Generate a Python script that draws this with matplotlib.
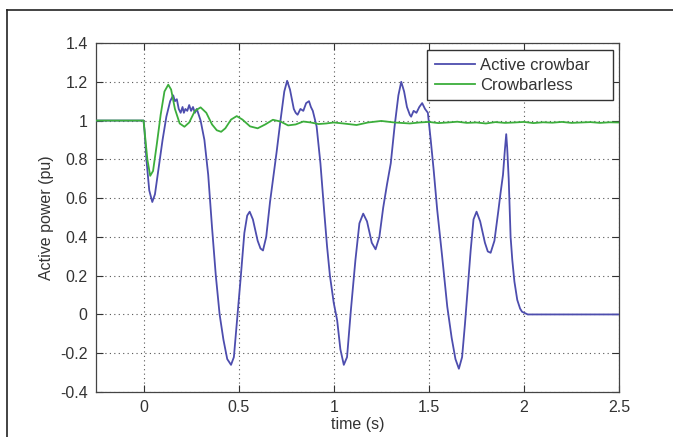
import matplotlib
matplotlib.use("Agg")
import matplotlib.pyplot as plt
from matplotlib.lines import Line2D

# ---- data ----
t_active = [-0.25, 0.0, 0.005, 0.015, 0.03, 0.046, 0.06, 0.08, 0.10, 0.12, 0.14, 0.156, 0.165, 0.175,
            0.185, 0.195, 0.205, 0.212, 0.22, 0.23, 0.24, 0.25, 0.26, 0.27, 0.28, 0.29, 0.30, 0.32,
            0.34, 0.36, 0.38, 0.40, 0.42, 0.44, 0.46, 0.475, 0.49, 0.51, 0.53, 0.545, 0.558, 0.575,
            0.60, 0.615, 0.628, 0.645, 0.665, 0.684, 0.70, 0.72, 0.74, 0.755, 0.77, 0.79, 0.80, 0.81,
            0.825, 0.84, 0.855, 0.87, 0.88, 0.89, 0.91, 0.93, 0.95, 0.965, 0.98, 1.00, 1.018, 1.035,
            1.053, 1.07, 1.09, 1.114, 1.135, 1.155, 1.175, 1.20, 1.22, 1.24, 1.26, 1.28, 1.30, 1.32,
            1.34, 1.355, 1.37, 1.385, 1.40, 1.407, 1.42, 1.435, 1.45, 1.465, 1.48, 1.495, 1.51, 1.525,
            1.544, 1.57, 1.597, 1.62, 1.64, 1.658, 1.675, 1.69, 1.70, 1.72, 1.735, 1.751, 1.77, 1.795,
            1.81, 1.825, 1.845, 1.865, 1.877, 1.89, 1.90, 1.907, 1.912, 1.92, 1.93, 1.939, 1.95, 1.965,
            1.98, 1.99, 2.02, 2.5]
p_active = [1.0, 1.0, 0.95, 0.80, 0.64, 0.58, 0.62, 0.76, 0.90, 1.02, 1.10, 1.13, 1.10, 1.11,
            1.06, 1.04, 1.07, 1.04, 1.06, 1.05, 1.08, 1.05, 1.07, 1.04, 1.06, 1.03, 1.00, 0.90,
            0.72, 0.45, 0.20, 0.00, -0.13, -0.23, -0.26, -0.22, -0.05, 0.18, 0.42, 0.51, 0.53, 0.49,
            0.38, 0.34, 0.33, 0.40, 0.58, 0.72, 0.84, 1.00, 1.15, 1.205, 1.16, 1.06, 1.04, 1.03,
            1.06, 1.05, 1.09, 1.10, 1.07, 1.05, 0.97, 0.78, 0.53, 0.35, 0.20, 0.06, -0.03, -0.18,
            -0.26, -0.22, 0.02, 0.28, 0.47, 0.52, 0.48, 0.37, 0.336, 0.40, 0.55, 0.67, 0.78, 0.97,
            1.13, 1.20, 1.15, 1.07, 1.03, 1.02, 1.05, 1.04, 1.07, 1.09, 1.06, 1.04, 0.90, 0.75,
            0.54, 0.30, 0.04, -0.12, -0.23, -0.28, -0.22, -0.05, 0.075, 0.33, 0.49, 0.53, 0.48, 0.37,
            0.325, 0.318, 0.38, 0.53, 0.625, 0.72, 0.85, 0.93, 0.86, 0.70, 0.40, 0.28, 0.17, 0.075,
            0.03, 0.014, 0.0, 0.0]

t_less = [-0.25, 0.0, 0.01, 0.02, 0.035, 0.05, 0.07, 0.09, 0.11, 0.13, 0.145, 0.165, 0.19, 0.215,
          0.24, 0.27, 0.30, 0.33, 0.36, 0.385, 0.408, 0.43, 0.46, 0.49, 0.52, 0.56, 0.60, 0.64,
          0.68, 0.72, 0.76, 0.80, 0.84, 0.88, 0.92, 0.96, 1.00, 1.05, 1.12, 1.18, 1.25, 1.32, 1.40,
          1.45, 1.50, 1.55, 1.60, 1.65, 1.70, 1.75, 1.80, 1.85, 1.90, 1.95, 2.00, 2.05, 2.10, 2.15,
          2.20, 2.25, 2.30, 2.35, 2.40, 2.45, 2.5]
p_less = [1.0, 1.0, 0.90, 0.80, 0.715, 0.74, 0.88, 1.03, 1.15, 1.185, 1.16, 1.06, 0.985, 0.968,
          0.99, 1.05, 1.068, 1.04, 0.98, 0.95, 0.942, 0.96, 1.005, 1.023, 1.005, 0.97, 0.96, 0.98,
          1.004, 0.995, 0.975, 0.98, 0.995, 0.99, 0.982, 0.985, 0.99, 0.985, 0.977, 0.99, 0.998, 0.99, 0.985,
          0.99, 0.993, 0.987, 0.99, 0.994, 0.988, 0.99, 0.985, 0.992, 0.988, 0.99, 0.993, 0.987, 0.991, 0.989,
          0.993, 0.988, 0.99, 0.992, 0.988, 0.991, 0.99]

x_ticks = [0, 0.5, 1, 1.5, 2, 2.5]
x_ticklabels = ["0", "0.5", "1", "1.5", "2", "2.5"]
y_ticks = [-0.4, -0.2, 0, 0.2, 0.4, 0.6, 0.8, 1.0, 1.2, 1.4]
y_ticklabels = ["-0.4", "-0.2", "0", "0.2", "0.4", "0.6", "0.8", "1", "1.2", "1.4"]

plt.rcParams['font.family'] = ['Liberation Sans', 'DejaVu Sans']

fig = plt.figure(figsize=(6.73, 4.37), dpi=100)
fig.patch.set_facecolor('white')
ax = fig.add_axes([96/673, 1 - 392/437, (619 - 96)/673, (392 - 43)/437])

ax.plot(t_active, p_active, color='#4d4dae', lw=1.3, label='Active crowbar', zorder=3)
ax.plot(t_less, p_less, color='#3cae3c', lw=1.3, label='Crowbarless', zorder=4)

ax.set_xlim(-0.25, 2.5)
ax.set_ylim(-0.4, 1.4)
ax.set_xticks(x_ticks)
ax.set_xticklabels(x_ticklabels)
ax.set_yticks(y_ticks)
ax.set_yticklabels(y_ticklabels)
ax.tick_params(direction='in', top=True, right=True, length=5, width=0.8,
               labelsize=11.5, colors='#333333', pad=6)
for s in ax.spines.values():
    s.set_color('#444444')
    s.set_linewidth(0.9)
ax.grid(True, linestyle=(0, (1, 3)), color='#555555', linewidth=0.8)

ax.set_xlabel('time (s)', fontsize=11.5, color='#333333', labelpad=1)
ax.set_ylabel('Active power (pu)', fontsize=11.5, color='#333333', labelpad=4)

# legend box: MATLAB-style with extra room on the right
leg_left = (427 - 96) / 523
leg_right = (613 - 96) / 523
leg_top = (392 - 50) / 349
leg = ax.legend(loc='upper left', fontsize=12, frameon=True, fancybox=False,
                bbox_to_anchor=(leg_left, 0.0, leg_right - leg_left, leg_top),
                mode='expand', borderaxespad=0.0, handlelength=2.45, borderpad=0.45,
                labelspacing=0.3, handletextpad=0.3)
leg.get_frame().set_edgecolor('#333333')
leg.get_frame().set_linewidth(1.0)
leg.get_frame().set_alpha(1.0)
for txt in leg.get_texts():
    txt.set_color('#333333')

# partial outer frame (top and left edges)
fig.add_artist(Line2D([7/673, 7/673], [0, 1 - 10/437], transform=fig.transFigure,
                      color='#222222', lw=1.2))
fig.add_artist(Line2D([7/673, 1], [1 - 10/437, 1 - 10/437], transform=fig.transFigure,
                      color='#222222', lw=1.2))

fig.savefig('out.png', dpi=100, facecolor='white')
